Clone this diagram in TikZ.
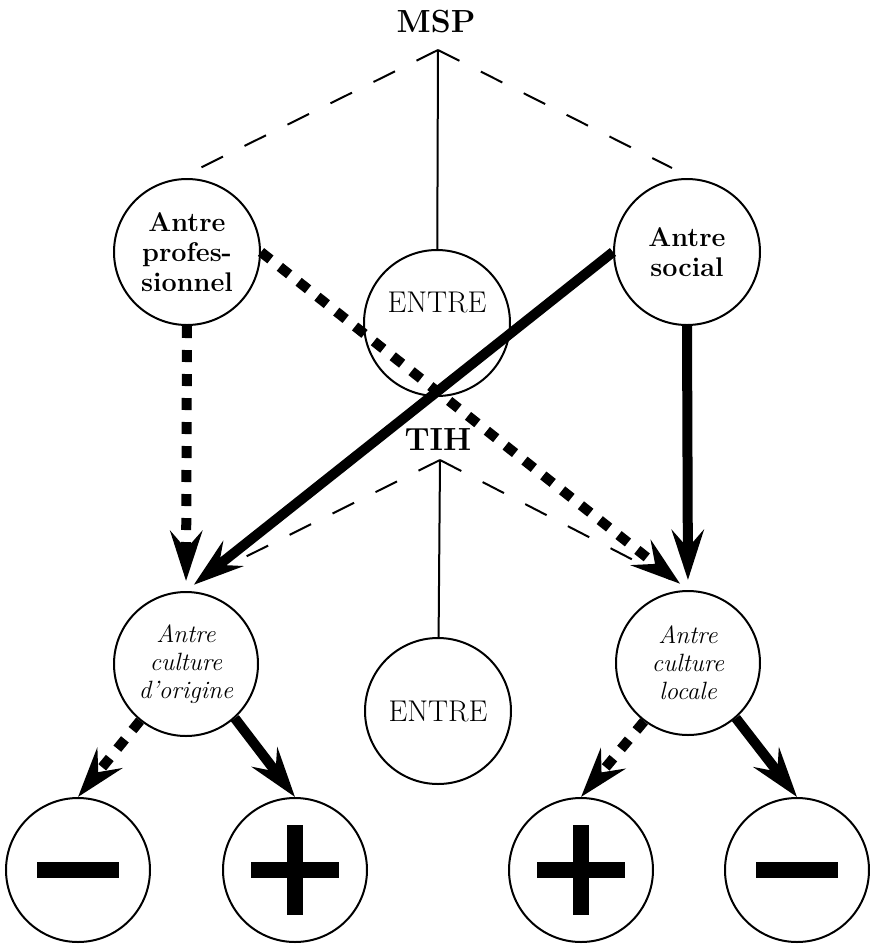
\documentclass[tikz,border=0pt]{standalone}
\usepackage{tikz}
\usetikzlibrary{arrows.meta}

\tikzset{
  rond/.style={draw, circle, line width=1pt, minimum size=73pt, inner sep=0pt, align=center},
  gras/.style={font=\fontsize{13.5}{15}\selectfont\bfseries},
  ital/.style={font=\fontsize{12.5}{14}\selectfont\itshape},
  titre/.style={font=\fontsize{16}{18}\selectfont\bfseries},
  grand/.style={font=\fontsize{15}{18}\selectfont},
  trait/.style={line width=1pt},
  tiret/.style={line width=1pt, dash pattern=on 12pt off 12pt},
  fleche/.style={line width=5pt, -{Stealth[length=25pt,width=16pt,inset=9pt]}},
  pointille/.style={fleche, dash pattern=on 6pt off 6pt},
  loin/.style={shorten >=5pt}
}

\begin{document}
\begin{tikzpicture}[x=0.5pt,y=-0.5pt]
        \useasboundingbox (0,0) rectangle (870,944);

        \node[titre] (msp) at (436,22) {MSP};
        \coordinate (sommetA) at (438,50);
        \coordinate (tiretAg) at (200,168);
        \coordinate (tiretAd) at (672,168);
        \node[rond,gras] (prof) at (187,252) {Antre\\profes-\\sionnel};
        \node[rond,gras] (social) at (687,252) {Antre\\social};
        \node[rond] (entreA) at (437,323) {};
        \node[grand] (entreAtxt) at (437,302) {ENTRE};

        \node[titre] (tih) at (438,440) {TIH};
        \coordinate (sommetB) at (440,460);
        \coordinate (tiretBg) at (203,578);
        \coordinate (tiretBd) at (670,579);
        \node[rond,ital,minimum size=72pt] (origine) at (186,664) {Antre\\culture\\d'origine};
        \node[rond,ital,minimum size=72pt] (locale) at (688,663) {Antre\\culture\\locale};
        \node[rond,grand] (entreB) at (438,711) {ENTRE};

        \foreach \n/\x in {moinsA/78,plusA/295,plusB/581,moinsB/797}
          \node[rond,minimum size=72pt] (\n) at (\x,870) {};

        \draw[trait] (sommetA) -- (entreA);
        \draw[tiret] (sommetA) -- (tiretAg);
        \draw[tiret] (sommetA) -- (tiretAd);
        \draw[trait] (sommetB) -- (entreB);
        \draw[tiret] (sommetB) -- (tiretBg);
        \draw[tiret] (sommetB) -- (tiretBd);

        \draw[pointille,loin] (prof.south) -- (origine.north);
        \draw[pointille,loin] (prof.east) -- (locale.north);
        \draw[fleche,loin] (social.west) -- (origine.north);
        \draw[fleche,loin] (social.south) -- (locale.north);

        \draw[pointille] (origine.-129) -- (moinsA.north);
        \draw[fleche] (origine.-48) -- (plusA.north);
        \draw[pointille] (locale.-127) -- (plusB.north);
        \draw[fleche] (locale.-49) -- (moinsB.north);

        \foreach \n in {moinsA,moinsB}
          \fill ([shift={(-41,-8)}]\n.center) rectangle ([shift={(41,8)}]\n.center);
        \foreach \n in {plusA,plusB}
         {
          \fill ([shift={(-44,-8)}]\n.center) rectangle ([shift={(44,8)}]\n.center);
          \fill ([shift={(-8,-45)}]\n.center) rectangle ([shift={(8,45)}]\n.center);
         }
\end{tikzpicture}
\end{document}
